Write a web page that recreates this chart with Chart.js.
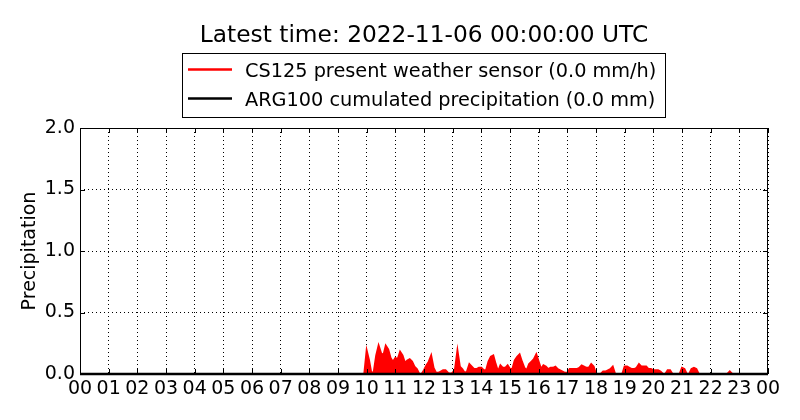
<!DOCTYPE html>
<html>
<head>
<meta charset="utf-8">
<script src="https://cdn.jsdelivr.net/npm/chart.js@4.4.0/dist/chart.umd.min.js"></script>
<style>
  html, body { margin: 0; padding: 0; background: #fff; }
  #wrap { width: 800px; height: 420px; }
</style>
</head>
<body>
<div id="wrap"><canvas id="precipChart"></canvas></div>
<script>
// Title and legend texts
const chartTitle = 'Latest time: 2022-11-06 00:00:00 UTC';
const seriesNames = [
  'CS125 present weather sensor (0.0 mm/h)',
  'ARG100 cumulated precipitation (0.0 mm)'
];
const seriesColors = ['#ff0000', '#000000'];

// X axis tick labels (hours of the day)
const hourLabels = ['00', '01', '02', '03', '04', '05', '06', '07', '08', '09', '10', '11',
  '12', '13', '14', '15', '16', '17', '18', '19', '20', '21', '22', '23', '00'];

// CS125 rain rate, sampled every 5 minutes starting 09:55 (mm/h)
const cs125StartHour = 9 + 55 / 60;
const cs125StepMinutes = 5;
const cs125Values = [
  0.00,
  0.19, 0.11, 0.00, 0.02, 0.15, 0.23, 0.17, 0.15, 0.23, 0.20, 0.13, 0.10, // 10h
  0.13, 0.12, 0.18, 0.15, 0.09, 0.11, 0.12, 0.10, 0.06, 0.04, 0.00, 0.00, // 11h
  0.03, 0.07, 0.10, 0.15, 0.05, 0.01, 0.01, 0.02, 0.03, 0.03, 0.01, 0.00, // 12h
  0.01, 0.04, 0.19, 0.06, 0.04, 0.01, 0.02, 0.08, 0.06, 0.04, 0.04, 0.05, // 13h
  0.05, 0.03, 0.03, 0.10, 0.14, 0.15, 0.08, 0.02, 0.07, 0.05, 0.05, 0.07, // 14h
  0.04, 0.04, 0.11, 0.14, 0.16, 0.10, 0.05, 0.03, 0.08, 0.10, 0.12, 0.16, // 15h
  0.10, 0.04, 0.07, 0.06, 0.04, 0.05, 0.05, 0.06, 0.04, 0.03, 0.02, 0.01, // 16h
  0.01, 0.04, 0.04, 0.04, 0.04, 0.05, 0.07, 0.06, 0.05, 0.05, 0.08, 0.06, // 17h
  0.00, 0.00, 0.00, 0.02, 0.02, 0.03, 0.04, 0.06, 0.00, 0.00, 0.00, 0.00, // 18h
  0.06, 0.06, 0.05, 0.04, 0.04, 0.05, 0.08, 0.06, 0.06, 0.06, 0.04, 0.04, // 19h
  0.03, 0.03, 0.03, 0.02, 0.00, 0.00, 0.03, 0.03, 0.00, 0.00, 0.00, 0.00, // 20h
  0.05, 0.04, 0.00, 0.00, 0.04, 0.05, 0.04, 0.00, 0.00, 0.00, 0.00, 0.00, // 21h
  0.00, 0.00, 0.00, 0.00, 0.00, 0.00, 0.00, 0.00, 0.02, 0.00, 0.00, 0.00, // 22h
  0.00
];

// ARG100 cumulated precipitation (flat zero all day)
const arg100Hours = [0, 24];
const arg100Values = [0.0, 0.0];

const cs125Points = cs125Values.map((v, i) => ({ x: cs125StartHour + i * cs125StepMinutes / 60, y: v }));
const arg100Points = arg100Values.map((v, i) => ({ x: arg100Hours[i], y: v }));

Chart.defaults.font.family = 'DejaVu Sans';
Chart.defaults.font.size = 19;
Chart.defaults.color = '#000';

// Draws the matplotlib-like frame, inward ticks, title and boxed legend
const framePlugin = {
  id: 'frame',
  afterDatasetsDraw(chart) {
    const { ctx, chartArea: a, scales: { x, y } } = chart;
    ctx.save();
    ctx.strokeStyle = '#000';
    ctx.lineWidth = 1;
    ctx.setLineDash([]);
    ctx.strokeRect(a.left + 0.5, a.top + 0.5, a.right - a.left - 1, a.bottom - a.top - 1);
    ctx.beginPath();
    x.ticks.forEach(t => {
      const px = Math.round(x.getPixelForValue(t.value)) + 0.5;
      ctx.moveTo(px, a.top); ctx.lineTo(px, a.top + 5);
      ctx.moveTo(px, a.bottom); ctx.lineTo(px, a.bottom - 5);
    });
    y.ticks.forEach(t => {
      const py = Math.round(y.getPixelForValue(t.value)) + 0.5;
      ctx.moveTo(a.left, py); ctx.lineTo(a.left + 5, py);
      ctx.moveTo(a.right, py); ctx.lineTo(a.right - 5, py);
    });
    ctx.stroke();
    ctx.restore();
  },
  afterDraw(chart) {
    const { ctx, chartArea: a } = chart;
    const cx = (a.left + a.right) / 2;
    ctx.save();
    ctx.fillStyle = '#000';
    ctx.textBaseline = 'alphabetic';

    // title
    ctx.font = '23.3px "DejaVu Sans"';
    ctx.textAlign = 'center';
    ctx.fillText(chartTitle, cx, 42);

    // legend
    ctx.font = '19.3px "DejaVu Sans"';
    ctx.textAlign = 'left';
    const textW = Math.max(...seriesNames.map(n => ctx.measureText(n).width));
    const boxW = 6 + 44 + 13 + textW + 9;
    const boxL = Math.round(cx - boxW / 2);
    ctx.fillStyle = '#fff';
    ctx.fillRect(boxL, 53, boxW, 64);
    ctx.strokeStyle = '#000';
    ctx.lineWidth = 1;
    ctx.strokeRect(boxL + 0.5, 53.5, Math.round(boxW), 64);
    seriesNames.forEach((name, i) => {
      const rowY = 69.5 + i * 29;
      ctx.strokeStyle = seriesColors[i];
      ctx.lineWidth = 2.5;
      ctx.beginPath();
      ctx.moveTo(boxL + 6, rowY);
      ctx.lineTo(boxL + 50, rowY);
      ctx.stroke();
      ctx.fillStyle = '#000';
      ctx.fillText(name, boxL + 63, rowY + 7.5);
    });
    ctx.restore();
  }
};

const ctx = document.getElementById('precipChart').getContext('2d');
window.precipChart = new Chart(ctx, {
  type: 'line',
  data: {
    datasets: [{
      label: seriesNames[0],
      data: cs125Points,
      borderColor: seriesColors[0],
      backgroundColor: seriesColors[0],
      borderWidth: 2,
      fill: 'origin',
      tension: 0,
      pointRadius: 0,
      order: 1
    }, {
      label: seriesNames[1],
      data: arg100Points,
      borderColor: seriesColors[1],
      borderWidth: 2.5,
      fill: false,
      pointRadius: 0,
      clip: false,
      order: 0
    }]
  },
  options: {
    responsive: true,
    maintainAspectRatio: false,
    animation: false,
    layout: { padding: { top: 128, right: 32, left: 0, bottom: 0 } },
    plugins: {
      legend: { display: false },
      title: { display: false },
      tooltip: { enabled: false }
    },
    scales: {
      x: {
        type: 'linear',
        min: 0,
        max: 24,
        afterFit: (scale) => { scale.height = 46; },
        grid: { color: '#000', lineWidth: 1, drawTicks: false },
        border: { display: false, dash: [1, 3] },
        ticks: {
          stepSize: 1,
          autoSkip: false,
          maxRotation: 0,
          padding: 4,
          callback: (value, index) => hourLabels[index]
        }
      },
      y: {
        min: 0,
        max: 2,
        afterFit: (scale) => { scale.width = 80; },
        grid: { color: '#000', lineWidth: 1, drawTicks: false },
        border: { display: false, dash: [1, 3] },
        title: { display: true, text: 'Precipitation', padding: { top: 19, bottom: 0 } },
        ticks: {
          stepSize: 0.5,
          padding: 5,
          callback: (value) => value.toFixed(1)
        }
      }
    }
  },
  plugins: [framePlugin]
});
</script>
</body>
</html>
